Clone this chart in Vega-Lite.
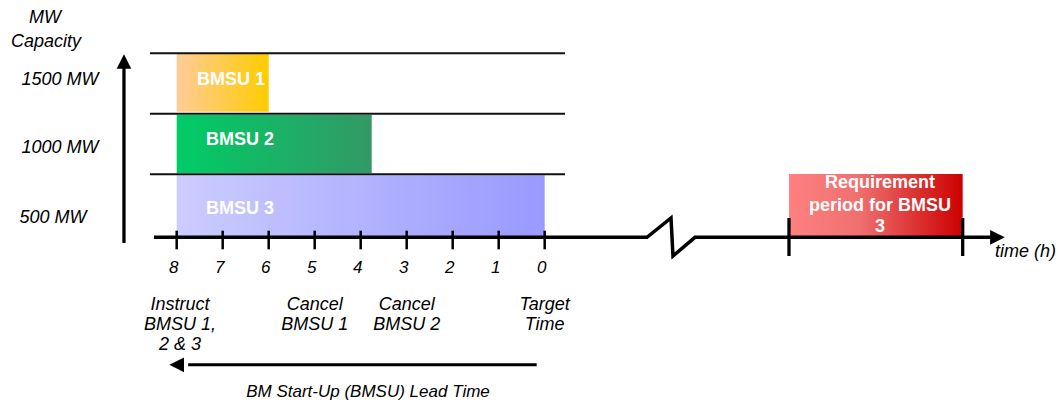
{
  "$schema": "https://vega.github.io/schema/vega-lite/v6.json",
  "width": 1058,
  "height": 409,
  "padding": 0,
  "autosize": {"type": "none"},
  "background": "white",
  "config": {"view": {"stroke": null}, "text": {"font": "Liberation Sans"}},
  "datasets": {
    "bars": [
      {"name": "BMSU 1", "h": 8, "h2": 6, "mw": 1496, "mw2": 1017},
      {"name": "BMSU 2", "h": 8, "h2": 3.76, "mw": 990, "mw2": 511},
      {"name": "BMSU 3", "h": 8, "h2": 0, "mw": 492, "mw2": -10},
      {"name": "Requirement", "h": -5.311, "h2": -9.087, "mw": 502, "mw2": -10}
    ],
    "hrules": [
      {"kind": "grid", "h": 8.58, "h2": -0.441, "mw": 1500},
      {"kind": "grid", "h": 8.58, "h2": -0.441, "mw": 1000},
      {"kind": "grid", "h": 8.58, "h2": -0.441, "mw": 500},
      {"kind": "lead", "h": 7.75, "h2": 0.174, "mw": -1074.4}
    ],
    "vrules": [
      {"kind": "tick", "h": 0, "mw": 34, "mw2": -120},
      {"kind": "tick", "h": 1, "mw": 34, "mw2": -120},
      {"kind": "tick", "h": 2, "mw": 34, "mw2": -120},
      {"kind": "tick", "h": 3, "mw": 34, "mw2": -120},
      {"kind": "tick", "h": 4, "mw": 34, "mw2": -120},
      {"kind": "tick", "h": 5, "mw": 34, "mw2": -120},
      {"kind": "tick", "h": 6, "mw": 34, "mw2": -120},
      {"kind": "tick", "h": 7, "mw": 34, "mw2": -120},
      {"kind": "tick", "h": 8, "mw": 34, "mw2": -120},
      {"kind": "req", "h": -5.311, "mw": 139, "mw2": -175},
      {"kind": "req", "h": -9.087, "mw": 139, "mw2": -175},
      {"kind": "yaxis", "h": 9.146, "mw": 1428, "mw2": -68}
    ],
    "axisline": [
      {"o": 1, "h": 8.493, "mw": -20.7},
      {"o": 2, "h": -2.224, "mw": -20.7},
      {"o": 3, "h": -2.746, "mw": 138.8},
      {"o": 4, "h": -2.789, "mw": -175.2},
      {"o": 5, "h": -3.267, "mw": -20.7},
      {"o": 6, "h": -9.724, "mw": -20.7}
    ],
    "arrows": [
      {"dir": "up", "h": 9.146, "mw": 1432},
      {"dir": "right", "h": -9.843, "mw": -20.7},
      {"dir": "left", "h": 8.0, "mw": -1074.4}
    ],
    "texts": [
      {"kind": "bar", "label": "BMSU 1", "h": 6.82, "mw": 1242},
      {"kind": "bar", "label": "BMSU 2", "h": 6.624, "mw": 742},
      {"kind": "bar", "label": "BMSU 3", "h": 6.624, "mw": 176},
      {"kind": "bar", "label": "Requirement", "h": -7.289, "mw": 384.3},
      {"kind": "bar", "label": "period for BMSU", "h": -7.289, "mw": 196.7},
      {"kind": "bar", "label": "3", "h": -7.289, "mw": 25.6},
      {"kind": "ylab", "label": "MW", "h": 10.863, "mw": 1750},
      {"kind": "ylab", "label": "Capacity", "h": 10.841, "mw": 1552},
      {"kind": "ylab", "label": "1500 MW", "h": 10.537, "mw": 1238},
      {"kind": "ylab", "label": "1000 MW", "h": 10.537, "mw": 676},
      {"kind": "ylab", "label": "500 MW", "h": 10.689, "mw": 100},
      {"kind": "tick", "label": "8", "h": 8, "mw": -313.2},
      {"kind": "tick", "label": "7", "h": 7, "mw": -313.2},
      {"kind": "tick", "label": "6", "h": 6, "mw": -313.2},
      {"kind": "tick", "label": "5", "h": 5, "mw": -313.2},
      {"kind": "tick", "label": "4", "h": 4, "mw": -313.2},
      {"kind": "tick", "label": "3", "h": 3, "mw": -313.2},
      {"kind": "tick", "label": "2", "h": 2, "mw": -313.2},
      {"kind": "tick", "label": "1", "h": 1, "mw": -313.2},
      {"kind": "tick", "label": "0", "h": 0, "mw": -313.2},
      {"kind": "note", "label": "Instruct", "h": 7.93, "mw": -621.5},
      {"kind": "note", "label": "BMSU 1,", "h": 7.93, "mw": -786.8},
      {"kind": "note", "label": "2 & 3", "h": 7.93, "mw": -952.1},
      {"kind": "note", "label": "Cancel", "h": 5, "mw": -621.5},
      {"kind": "note", "label": "BMSU 1", "h": 5, "mw": -786.8},
      {"kind": "note", "label": "Cancel", "h": 3, "mw": -621.5},
      {"kind": "note", "label": "BMSU 2", "h": 3, "mw": -786.8},
      {"kind": "note", "label": "Target", "h": 0, "mw": -621.5},
      {"kind": "note", "label": "Time", "h": 0, "mw": -786.8},
      {"kind": "lead", "label": "BM Start-Up (BMSU) Lead Time", "h": 3.841, "mw": -1338},
      {"kind": "xtitle", "label": "time (h)", "h": -9.789, "mw": -183.5}
    ]
  },
  "encoding": {
    "x": {"field": "h", "type": "quantitative", "scale": {"domain": [-11.159, 11.841], "reverse": true, "nice": false, "zero": false}, "axis": null},
    "y": {"field": "mw", "type": "quantitative", "scale": {"domain": [-1439.7, 1940.5], "nice": false, "zero": false}, "axis": null}
  },
  "layer": [
    {
      "data": {"name": "bars"},
      "transform": [{"filter": "datum.name === 'BMSU 1'"}],
      "mark": {"type": "rect", "fill": {"gradient": "linear", "x1": 0, "y1": 0, "x2": 1, "y2": 0, "stops": [{"offset": 0, "color": "#FFCC99"}, {"offset": 1, "color": "#FFCC00"}]}},
      "encoding": {"x2": {"field": "h2"}, "y2": {"field": "mw2"}}
    },
    {
      "data": {"name": "bars"},
      "transform": [{"filter": "datum.name === 'BMSU 2'"}],
      "mark": {"type": "rect", "fill": {"gradient": "linear", "x1": 0, "y1": 0, "x2": 1, "y2": 0, "stops": [{"offset": 0, "color": "#00CC66"}, {"offset": 1, "color": "#339966"}]}},
      "encoding": {"x2": {"field": "h2"}, "y2": {"field": "mw2"}}
    },
    {
      "data": {"name": "bars"},
      "transform": [{"filter": "datum.name === 'BMSU 3'"}],
      "mark": {"type": "rect", "fill": {"gradient": "linear", "x1": 0, "y1": 0, "x2": 1, "y2": 0, "stops": [{"offset": 0, "color": "#CCCCFF"}, {"offset": 1, "color": "#9999FF"}]}},
      "encoding": {"x2": {"field": "h2"}, "y2": {"field": "mw2"}}
    },
    {
      "data": {"name": "bars"},
      "transform": [{"filter": "datum.name === 'Requirement'"}],
      "mark": {"type": "rect", "fill": {"gradient": "linear", "x1": 0, "y1": 0, "x2": 1, "y2": 0, "stops": [{"offset": 0, "color": "#FF8080"}, {"offset": 0.4, "color": "#F07070"}, {"offset": 1, "color": "#CC0000"}]}},
      "encoding": {"x2": {"field": "h2"}, "y2": {"field": "mw2"}}
    },
    {
      "data": {"name": "hrules"},
      "transform": [{"filter": "datum.kind === 'grid'"}],
      "mark": {"type": "rule", "stroke": "#111111", "strokeWidth": 2},
      "encoding": {"x2": {"field": "h2"}}
    },
    {
      "data": {"name": "hrules"},
      "transform": [{"filter": "datum.kind === 'lead'"}],
      "mark": {"type": "rule", "stroke": "#000000", "strokeWidth": 3},
      "encoding": {"x2": {"field": "h2"}}
    },
    {
      "data": {"name": "axisline"},
      "mark": {"type": "line", "stroke": "#000000", "strokeWidth": 3.5},
      "encoding": {"order": {"field": "o", "type": "quantitative"}}
    },
    {
      "data": {"name": "vrules"},
      "transform": [{"filter": "datum.kind === 'tick'"}],
      "mark": {"type": "rule", "stroke": "#000000", "strokeWidth": 2.5},
      "encoding": {"y2": {"field": "mw2"}}
    },
    {
      "data": {"name": "vrules"},
      "transform": [{"filter": "datum.kind !== 'tick'"}],
      "mark": {"type": "rule", "stroke": "#000000", "strokeWidth": 3.3},
      "encoding": {"y2": {"field": "mw2"}}
    },
    {
      "data": {"name": "arrows"},
      "mark": {"type": "point", "filled": true, "color": "#000000", "opacity": 1, "size": 215, "strokeWidth": 0},
      "encoding": {
        "shape": {"field": "dir", "type": "nominal", "scale": {"domain": ["up", "right", "left"], "range": ["M-1,1L0,-1L1,1Z", "M-1,-1L1,0L-1,1Z", "M1,-1L-1,0L1,1Z"]}, "legend": null}
      }
    },
    {
      "data": {"name": "texts"},
      "transform": [{"filter": "datum.kind === 'bar'"}],
      "mark": {"type": "text", "align": "center", "baseline": "alphabetic", "fontSize": 18, "fontWeight": "bold", "fill": "#FFFFFF"},
      "encoding": {"text": {"field": "label"}}
    },
    {
      "data": {"name": "texts"},
      "transform": [{"filter": "datum.kind === 'ylab' || datum.kind === 'note'"}],
      "mark": {"type": "text", "align": "center", "baseline": "alphabetic", "fontSize": 18, "fontStyle": "italic", "fill": "#000000"},
      "encoding": {"text": {"field": "label"}}
    },
    {
      "data": {"name": "texts"},
      "transform": [{"filter": "datum.kind === 'tick'"}],
      "mark": {"type": "text", "align": "center", "baseline": "alphabetic", "fontSize": 17, "fontStyle": "italic", "fill": "#000000", "dx": -3},
      "encoding": {"text": {"field": "label"}}
    },
    {
      "data": {"name": "texts"},
      "transform": [{"filter": "datum.kind === 'lead'"}],
      "mark": {"type": "text", "align": "center", "baseline": "alphabetic", "fontSize": 17, "fontStyle": "italic", "fill": "#000000"},
      "encoding": {"text": {"field": "label"}}
    },
    {
      "data": {"name": "texts"},
      "transform": [{"filter": "datum.kind === 'xtitle'"}],
      "mark": {"type": "text", "align": "left", "baseline": "alphabetic", "fontSize": 18, "fontStyle": "italic", "fill": "#000000"},
      "encoding": {"text": {"field": "label"}}
    }
  ]
}
